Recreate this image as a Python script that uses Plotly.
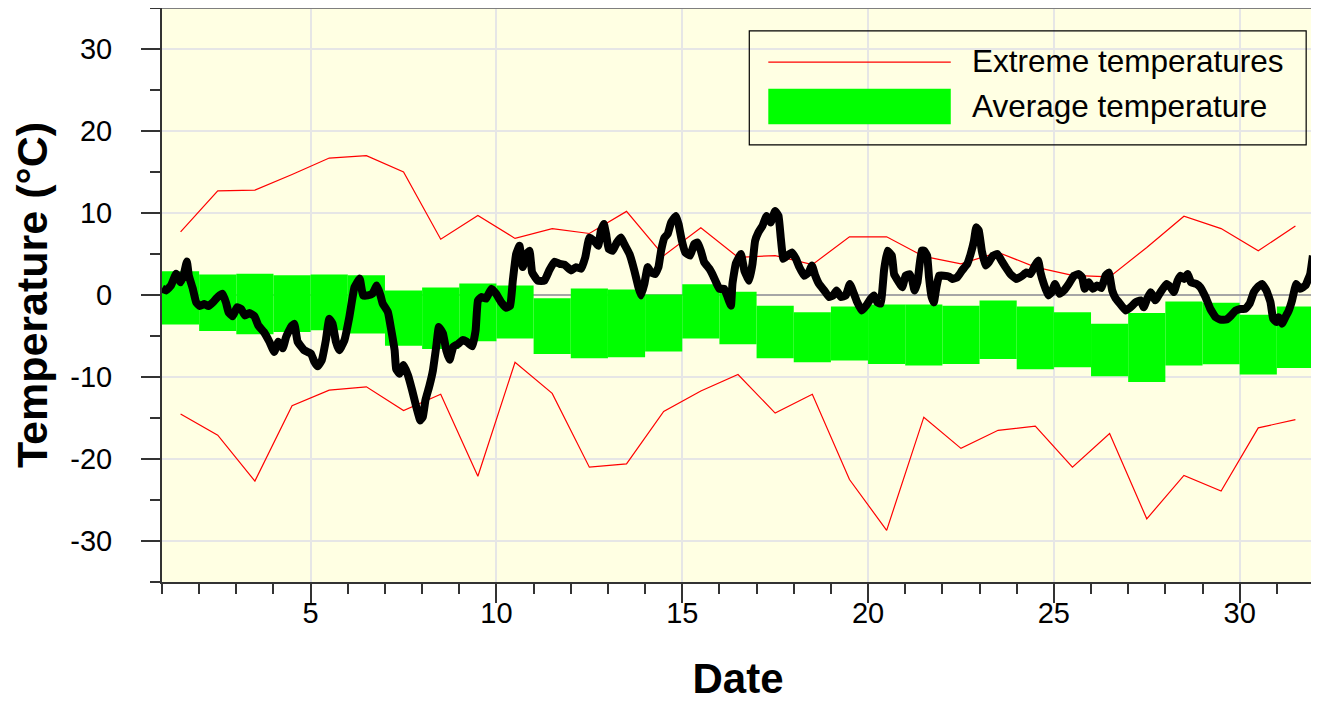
import plotly.graph_objects as go

# ---------------- data ----------------
days = list(range(1, 32))

ext_max = [7.7, 12.7, 12.8, 14.7, 16.7, 17.0, 15.0, 6.8, 9.7, 6.9, 8.1, 7.5, 10.2, 4.8, 8.2, 4.6,
           4.8, 3.7, 7.1, 7.1, 4.7, 3.8, 5.2, 3.4, 2.4, 2.2, 5.8, 9.6, 8.1, 5.4, 8.4]
ext_min = [-14.5, -17.1, -22.7, -13.5, -11.6, -11.2, -14.1, -12.1, -22.1, -8.2, -12.0, -21.0, -20.6,
           -14.2, -11.7, -9.7, -14.4, -12.1, -22.5, -28.7, -14.9, -18.7, -16.5, -16.0, -21.0, -16.9,
           -27.3, -22.0, -23.9, -16.2, -15.2]

avg_high = [2.9, 2.5, 2.6, 2.4, 2.5, 2.4, 0.55, 0.9, 1.4, 1.15, -0.4, 0.8, 0.67, 0.06, 1.3, 0.4,
            -1.3, -2.1, -1.4, -1.15, -1.15, -1.3, -0.67, -1.4, -2.1, -3.5, -2.2, -0.8, -0.95, -2.4, -1.4]
avg_low = [-3.6, -4.4, -4.8, -4.5, -4.3, -4.7, -6.2, -6.6, -5.65, -5.3, -7.2, -7.7, -7.6, -6.9, -5.3,
           -6.0, -7.7, -8.2, -8.0, -8.4, -8.6, -8.4, -7.8, -9.05, -8.8, -9.9, -10.6, -8.6, -8.45, -9.7, -8.9]

obs_time = [1.00, 1.11, 1.24, 1.38, 1.50, 1.59, 1.67, 1.72, 1.83, 1.92, 2.02, 2.14, 2.25, 2.37, 2.50,
            2.63, 2.72, 2.79, 2.90, 3.02, 3.13, 3.23, 3.35, 3.49, 3.59, 3.74, 3.89, 4.02, 4.13, 4.25,
            4.34, 4.47, 4.56, 4.65, 4.83, 5.01, 5.10, 5.19, 5.30, 5.41, 5.50, 5.59, 5.68, 5.77, 5.91,
            6.04, 6.18, 6.32, 6.41, 6.54, 6.66, 6.78, 6.88, 6.94, 7.08, 7.17, 7.26, 7.30, 7.39, 7.50,
            7.62, 7.73, 7.84, 7.95, 8.02, 8.09, 8.20, 8.29, 8.38, 8.45, 8.56, 8.65, 8.74, 8.84, 8.96,
            9.09, 9.20, 9.35, 9.44, 9.50, 9.59, 9.72, 9.86, 9.99, 10.13, 10.26, 10.37, 10.44, 10.53,
            10.62, 10.71, 10.81, 10.89, 10.96, 11.11, 11.29, 11.42, 11.56, 11.70, 11.83, 12.01, 12.14,
            12.28, 12.39, 12.50, 12.63, 12.74, 12.81, 12.89, 12.95, 13.02, 13.13, 13.24, 13.35, 13.44,
            13.58, 13.71, 13.82, 13.89, 13.98, 14.07, 14.16, 14.27, 14.36, 14.43, 14.52, 14.61, 14.70,
            14.83, 14.90, 14.99, 15.08, 15.21, 15.32, 15.41, 15.50, 15.59, 15.73, 15.81, 15.91, 16.00,
            16.13, 16.22, 16.31, 16.35, 16.44, 16.58, 16.67, 16.80, 16.89, 16.96, 17.05, 17.16, 17.27,
            17.38, 17.50, 17.59, 17.65, 17.72, 17.83, 17.95, 18.06, 18.15, 18.28, 18.40, 18.49, 18.58,
            18.68, 18.82, 18.95, 19.06, 19.15, 19.27, 19.40, 19.51, 19.62, 19.71, 19.83, 19.95, 20.07,
            20.16, 20.25, 20.34, 20.43, 20.52, 20.64, 20.70, 20.83, 20.92, 21.01, 21.12, 21.19, 21.25,
            21.33, 21.44, 21.51, 21.59, 21.64, 21.71, 21.77, 21.84, 21.91, 22.04, 22.18, 22.27, 22.40,
            22.53, 22.67, 22.76, 22.85, 22.91, 22.98, 23.06, 23.16, 23.25, 23.36, 23.48, 23.59, 23.70,
            23.83, 23.99, 24.15, 24.26, 24.37, 24.49, 24.58, 24.64, 24.73, 24.85, 24.94, 25.03, 25.15,
            25.27, 25.40, 25.54, 25.67, 25.76, 25.83, 25.94, 26.05, 26.16, 26.28, 26.39, 26.48, 26.57,
            26.66, 26.75, 26.93, 27.06, 27.20, 27.33, 27.42, 27.51, 27.60, 27.73, 27.87, 28.03, 28.14,
            28.23, 28.33, 28.41, 28.50, 28.60, 28.69, 28.84, 28.94, 29.08, 29.21, 29.35, 29.48, 29.64,
            29.77, 29.89, 30.02, 30.15, 30.27, 30.38, 30.48, 30.60, 30.72, 30.83, 30.90, 30.99, 31.05,
            31.14, 31.23, 31.32, 31.41, 31.52, 31.63, 31.77, 31.90, 31.97]
obs_temp = [0.8, 0.55, 1.15, 2.6, 1.55, 2.6, 4.1, 2.4, 0.75, -0.9, -1.35, -1.1, -1.35, -0.9, -0.25,
            0.15, -0.9, -2.1, -2.6, -1.5, -1.7, -2.5, -2.2, -2.6, -3.7, -4.5, -5.7, -6.95, -5.7, -6.5,
            -5.1, -3.9, -3.5, -5.7, -6.75, -7.15, -8.15, -8.7, -7.95, -5.5, -2.9, -3.5, -5.7, -6.75, -5.5,
            -2.7, 0.95, 2.0, -0.05, -0.05, 0.15, 1.15, -0.05, -1.05, -2.1, -4.3, -6.75, -9.0, -9.6, -8.55,
            -9.8, -11.6, -13.6, -15.3, -14.85, -12.8, -11.0, -9.2, -6.3, -3.9, -4.7, -6.75, -7.9, -6.3, -6.0,
            -5.5, -5.7, -6.25, -4.3, -0.7, -0.25, -0.45, 0.75, 0.15, -0.9, -1.55, -1.3, 1.75, 5.0,
            6.0, 3.4, 5.0, 5.4, 2.75, 1.75, 1.75, 3.0, 4.05, 3.8, 3.7, 3.0, 3.4,
            3.2, 4.6, 7.0, 6.6, 6.0, 7.85, 8.65, 7.45, 5.6, 5.4, 6.4, 7.0, 6.2,
            5.0, 3.0, 0.95, -0.05, 1.35, 3.4, 2.75, 2.55, 3.4, 5.4, 7.0, 7.45, 8.85,
            9.65, 8.65, 6.6, 5.2, 4.8, 6.2, 6.4, 5.4, 4.0, 3.2, 2.55, 1.55, 0.75,
            0.75, -0.25, -1.3, 1.35, 3.8, 5.0, 3.0, 1.75, 3.8, 6.6, 7.65, 8.45, 9.65,
            8.85, 10.25, 9.65, 7.0, 4.4, 4.8, 5.2, 4.4, 3.4, 2.35, 2.75, 3.6, 2.35,
            1.35, 0.55, -0.25, -0.05, 0.55, -0.25, -0.05, 1.35, 0.15, -0.9, -1.9, -1.3, -0.45,
            -0.05, -0.9, -1.05, 3.0, 5.4, 4.8, 2.55, 1.55, 0.95, 2.35, 2.55, 1.75, 0.55,
            1.55, 5.4, 5.4, 4.8, 2.15, -0.25, -0.9, 0.95, 2.35, 2.35, 2.25, 1.95, 2.15,
            3.0, 3.8, 5.0, 6.6, 8.25, 7.85, 5.4, 3.6, 4.0, 4.8, 5.0, 4.2, 3.4,
            2.55, 1.95, 2.35, 2.75, 2.55, 3.6, 4.2, 2.75, 1.35, -0.05, 0.35, 1.35, 0.15,
            0.55, 1.35, 2.35, 2.55, 2.15, 0.75, 1.55, 0.75, 1.15, 0.85, 2.35, 2.75, 0.55,
            -0.4, -0.9, -1.9, -1.5, -0.9, -0.65, -1.5, -0.45, 0.35, -0.65, 0.35, 1.35, 0.95,
            0.35, 1.75, 2.35, 1.95, 2.55, 1.55, 1.35, 0.95, -0.25, -1.7, -2.7, -3.0, -3.0,
            -2.5, -1.9, -1.7, -1.7, -1.05, 0.35, 0.95, 1.35, 0.55, -0.9, -2.9, -3.3, -2.7,
            -3.5, -2.7, -1.9, -0.65, 1.35, 0.75, 1.15, 2.6, 4.8]

x_tick_vals = [5, 10, 15, 20, 25, 30]
x_tick_text = ["5", "10", "15", "20", "25", "30"]
y_tick_vals = [-30, -20, -10, 0, 10, 20, 30]
y_tick_text = ["-30", "-20", "-10", "0", "10", "20", "30"]

legend_labels = ["Extreme temperatures", "Average temperature"]

# ---------------- figure ----------------
FONT = "Liberation Sans, Arial, Helvetica, sans-serif"
mid = [d + 0.5 for d in days]

fig = go.Figure()
fig.add_trace(go.Bar(
    x=mid, y=[h - l for h, l in zip(avg_high, avg_low)], base=avg_low, width=1,
    marker=dict(color="#00FF00", line=dict(width=0)), name=legend_labels[1], showlegend=False))
fig.add_trace(go.Scatter(x=mid, y=ext_max, mode="lines", line=dict(color="#FF0000", width=1.2),
                         name=legend_labels[0], showlegend=False))
fig.add_trace(go.Scatter(x=mid, y=ext_min, mode="lines", line=dict(color="#FF0000", width=1.2),
                         showlegend=False))
fig.add_trace(go.Scatter(x=obs_time, y=obs_temp, mode="lines",
                         line=dict(color="#000000", width=8, shape="spline", smoothing=0.3),
                         showlegend=False))

# manual legend (box, samples, labels)
shapes = [
    dict(type="rect", xref="paper", yref="paper", x0=0.5098, x1=0.9932, y0=0.7616, y1=0.9601,
         line=dict(color="#000000", width=1.2), fillcolor="rgba(0,0,0,0)"),
    dict(type="line", xref="paper", yref="paper", x0=0.5263, x1=0.6847, y0=0.9057, y1=0.9057,
         line=dict(color="#FF0000", width=1.2)),
    dict(type="rect", xref="paper", yref="paper", x0=0.5263, x1=0.6847, y0=0.7974, y1=0.8594,
         line=dict(width=0), fillcolor="#00FF00"),
    # gray top/right frame
    dict(type="line", xref="paper", yref="paper", x0=0, x1=1, y0=1, y1=1,
         line=dict(color="#7F7F7F", width=2)),
    dict(type="line", xref="paper", yref="paper", x0=1, x1=1, y0=0, y1=1,
         line=dict(color="#7F7F7F", width=2)),
]
annotations = [
    dict(xref="paper", yref="paper", x=0.7015, y=0.9080, text=legend_labels[0], showarrow=False,
         xanchor="left", yanchor="middle", font=dict(family=FONT, size=31.5, color="#000000")),
    dict(xref="paper", yref="paper", x=0.7015, y=0.8300, text=legend_labels[1], showarrow=False,
         xanchor="left", yanchor="middle", font=dict(family=FONT, size=31.5, color="#000000")),
]

# page body has an 8px default margin, so the figure is sized/placed to compensate
fig.update_layout(
    width=1311, height=694,
    margin=dict(l=154, r=5, t=0, b=120),
    paper_bgcolor="#FFFFFF", plot_bgcolor="#FFFFE3",
    font=dict(family=FONT, color="#000000"),
    showlegend=False, barmode="overlay",
    shapes=shapes, annotations=annotations,
)
fig.update_xaxes(
    range=[1, 32], tickmode="array", tickvals=x_tick_vals, ticktext=x_tick_text,
    ticks="outside", ticklen=19, tickwidth=1.5, tickcolor="#333333",
    minor=dict(ticks="outside", dtick=1, tick0=0, ticklen=10, tickwidth=1.5, tickcolor="#333333",
               showgrid=False),
    showgrid=True, gridcolor="#E6E6E6", gridwidth=1.5, zeroline=False,
    showline=True, linecolor="#333333", linewidth=2,
    tickfont=dict(family=FONT, size=29, color="#000000"), ticklabelstandoff=-15,
    title=dict(text="<b>Date</b>", font=dict(family=FONT, size=42, color="#000000"), standoff=40),
)
fig.update_yaxes(
    range=[-35, 35], tickmode="array", tickvals=y_tick_vals, ticktext=y_tick_text,
    ticks="outside", ticklen=19, tickwidth=1.5, tickcolor="#333333",
    minor=dict(ticks="outside", dtick=5, tick0=0, ticklen=10, tickwidth=1.5, tickcolor="#333333",
               showgrid=False),
    showgrid=True, gridcolor="#E6E6E6", gridwidth=1.5,
    zeroline=True, zerolinecolor="#A6A6A6", zerolinewidth=1.5,
    showline=True, linecolor="#333333", linewidth=2,
    tickfont=dict(family=FONT, size=29, color="#000000"), ticklabelstandoff=23,
    title=dict(text="<b>Temperature (°C)</b>", font=dict(family=FONT, size=43, color="#000000"),
               standoff=20),
)

fig.write_html("out.html")
